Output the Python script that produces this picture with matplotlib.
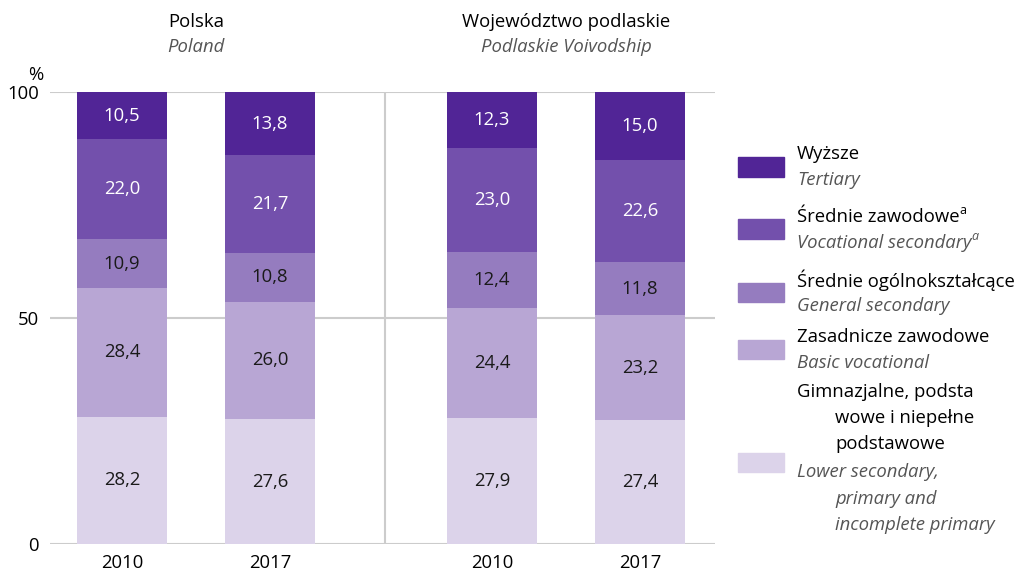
import matplotlib.pyplot as plt
import numpy as np

plt.rcParams['font.family'] = ['Open Sans', 'DejaVu Sans']

# --- data ---
years = ['2010', '2017', '2010', '2017']
groups_pl = ['Polska', 'Województwo podlaskie']
groups_en = ['Poland', 'Podlaskie Voivodship']

# bottom -> top
lower_sec = [28.2, 27.6, 27.9, 27.4]
basic_voc = [28.4, 26.0, 24.4, 23.2]
general_sec = [10.9, 10.8, 12.4, 11.8]
voc_sec = [22.0, 21.7, 23.0, 22.6]
tertiary = [10.5, 13.8, 12.3, 15.0]

series = [lower_sec, basic_voc, general_sec, voc_sec, tertiary]
colors = ['#dcd3ea', '#b8a6d4', '#957cbf', '#7350ac', '#512596']
text_colors = ['#1a1a1a', '#1a1a1a', '#1a1a1a', 'white', 'white']

legend_pl = ['Wyższe', 'Średnie zawodowe', 'Średnie ogólnokształcące', 'Zasadnicze zawodowe']
legend_en = ['Tertiary', 'Vocational secondary', 'General secondary', 'Basic vocational']

FS = 13.3
W, H = 1025, 575
fig = plt.figure(figsize=(W / 100, H / 100), dpi=100)
ax = fig.add_axes([50 / W, (H - 544) / H, 665 / W, (544 - 92) / H])

pos = np.array([0, 1, 2.5, 3.5])
width = 0.61
bottom = np.zeros(4)
for vals, c, tc in zip(series, colors, text_colors):
    vals = np.array(vals)
    ax.bar(pos, vals, width, bottom=bottom, color=c, zorder=3)
    for x, b, v in zip(pos, bottom, vals):
        ax.text(x, b + v / 2, f'{v:.1f}'.replace('.', ','), ha='center', va='center',
                fontsize=FS, color=tc, zorder=4)
    bottom += vals

ax.set_xlim(-0.486, 4.007)
ax.set_ylim(0, 100)
ax.set_yticks([0, 50, 100])
ax.set_yticklabels(['0', '50', '100'], fontsize=FS)
ax.set_xticks(pos)
ax.set_xticklabels(years, fontsize=FS)
ax.tick_params(length=0, pad=8)
ax.tick_params(axis='x', pad=7)
for s in ax.spines.values():
    s.set_visible(False)
for yv in [0, 50, 100]:
    ax.axhline(yv, color='#cccccc', lw=1.5, zorder=1)
ax.axvline(1.775, color='#cccccc', lw=1.5, zorder=1)
ax.text(-0.58, 101.8, '%', ha='center', va='bottom', fontsize=FS, clip_on=False)

# group titles
for cx, pl, en in zip([0.5, 3.0], groups_pl, groups_en):
    ax.text(cx, 115.5, pl, ha='center', va='center', fontsize=FS, clip_on=False)
    ax.text(cx, 110, en, ha='center', va='center', fontsize=FS, style='italic',
            color='#555555', clip_on=False)

# legend
def fx(px):
    return px / W

def fy(py):
    return 1 - py / H

patch_y = [167, 229, 292, 349, 462]
for py, c in zip(patch_y, colors[::-1]):
    fig.patches.append(plt.Rectangle((fx(738), fy(py + 9.5)), 46 / W, 19 / H,
                                     transform=fig.transFigure, color=c))

text_y = [154, 180, 217, 243, 280, 306, 337, 363]
for i, (pl, en) in enumerate(zip(legend_pl, legend_en)):
    t1 = fig.text(fx(797), fy(text_y[2 * i]), pl, ha='left', va='center', fontsize=FS)
    t2 = fig.text(fx(797), fy(text_y[2 * i + 1]), en, ha='left', va='center', fontsize=FS,
                  style='italic', color='#555555')
    if i == 1:
        ax.annotate('a', xy=(1, 0.5), xycoords=t1, fontsize=9, va='bottom', ha='left')
        ax.annotate('a', xy=(1, 0.5), xycoords=t2, fontsize=9, va='bottom', ha='left',
                    style='italic', color='#555555')

gim_pl = [('Gimnazjalne, podsta', 797, 392), ('wowe i niepełne', 835, 418), ('podstawowe', 835, 444)]
gim_en = [('Lower secondary,', 797, 472), ('primary and', 835, 499), ('incomplete primary', 835, 525)]
for s, x, y in gim_pl:
    fig.text(fx(x), fy(y), s, ha='left', va='center', fontsize=FS)
for s, x, y in gim_en:
    fig.text(fx(x), fy(y), s, ha='left', va='center', fontsize=FS, style='italic', color='#555555')

fig.savefig('out.png', dpi=100)
